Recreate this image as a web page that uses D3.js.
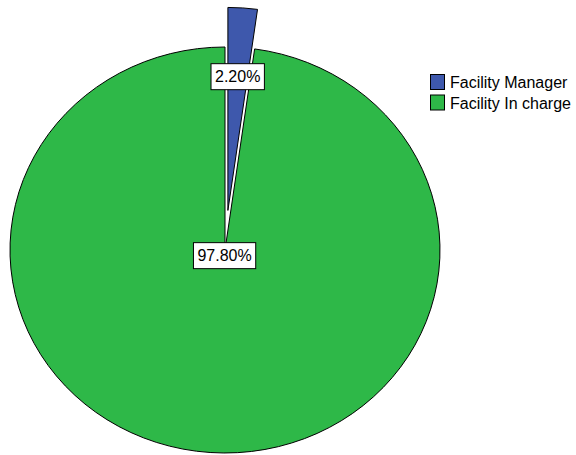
<!DOCTYPE html>
<html><head><meta charset="utf-8">
<script src="https://cdn.jsdelivr.net/npm/d3@7"></script>
<style>body{margin:0;background:#fff}svg{display:block}</style>
</head><body>
<script>
const categories = ["Facility Manager", "Facility In charge"];
const values = [2.2, 97.8];
const valueLabels = ["2.20%", "97.80%"];
const colors = ["#3E58AC", "#2EB848"];
const exploded = [true, false];

const W = 576, H = 455;
const cx = 225, cy = 250, r = 215, yScale = 203 / 215;
const explodeDist = 42;
const labelRadius = [142, 6];

const svg = d3.select("body").append("svg").attr("width", W).attr("height", H);
const pie = d3.pie().sort(null).value(d => d)(values);
const arc = d3.arc().innerRadius(0).outerRadius(r);

const g = svg.append("g").attr("transform", `translate(${cx},${cy}) scale(1,${yScale})`);

function offset(d, i) {
  const a = (d.startAngle + d.endAngle) / 2;
  const e = exploded[i] ? explodeDist : 0;
  return [Math.sin(a) * e, -Math.cos(a) * e];
}

g.selectAll("path").data(pie).join("path")
  .attr("d", arc)
  .attr("transform", (d, i) => { const o = offset(d, i); return `translate(${o[0]},${o[1]})`; })
  .attr("fill", (d, i) => colors[i])
  .attr("stroke", "#000")
  .attr("stroke-width", 1)
  .attr("vector-effect", "non-scaling-stroke");

// labels
const font = "Liberation Sans, Arial, sans-serif";
pie.forEach((d, i) => {
  const a = (d.startAngle + d.endAngle) / 2;
  const o = offset(d, i);
  const lx = cx + o[0] + Math.sin(a) * labelRadius[i];
  const ly = cy + (o[1] - Math.cos(a) * labelRadius[i]) * yScale;
  const lg = svg.append("g").attr("transform", `translate(${lx},${ly})`);
  const t = lg.append("text").attr("text-anchor", "middle").attr("dy", "0.36em")
    .attr("font-family", font).attr("font-size", 16).attr("fill", "#000").text(valueLabels[i]);
  const bb = t.node().getBBox();
  lg.insert("rect", "text").attr("x", bb.x - 4).attr("y", -13).attr("width", bb.width + 8).attr("height", 26)
    .attr("fill", "#fff").attr("stroke", "#000").attr("stroke-width", 1);
});

// legend
const leg = svg.append("g").attr("transform", "translate(430,74)");
categories.forEach((c, i) => {
  const row = leg.append("g").attr("transform", `translate(0,${i * 20.5})`);
  row.append("rect").attr("x", 0.5).attr("y", 0.5).attr("width", 14).attr("height", 15)
    .attr("fill", colors[i]).attr("stroke", "#000").attr("stroke-width", 1);
  row.append("text").attr("x", 20).attr("y", 14).attr("font-family", font).attr("font-size", 16)
    .attr("fill", "#000").text(c);
});
</script>
</body></html>
